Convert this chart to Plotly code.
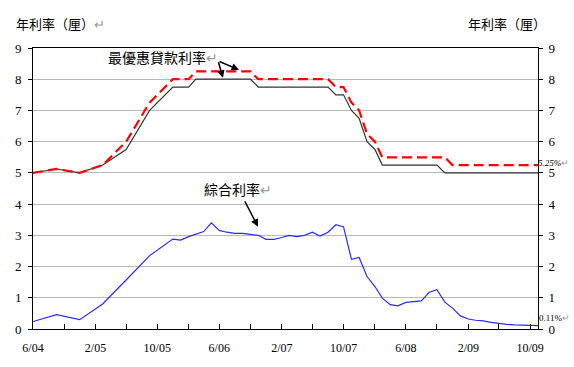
import pandas as pd
import plotly.graph_objects as go

# ---- data ----
quarter_dates = ["2004-06-01", "2004-09-01", "2004-12-01", "2005-03-01",
                 "2005-06-01", "2005-09-01", "2005-12-01"]
month_dates = [d.strftime("%Y-%m-%d") for d in pd.date_range("2006-01-01", "2009-11-01", freq="MS")]
dates = quarter_dates + month_dates

prime_low = ([5.0, 5.125, 5.0, 5.25, 5.75, 7.0, 7.75] +
             [7.75, 7.75] + [8.0] * 8 + [7.75] * 10 + [7.5, 7.5, 7.0, 6.75, 6.0, 5.75] +
             [5.25] * 8 + [5.0] * 13)
prime_high = ([5.0, 5.125, 5.0, 5.25, 6.0, 7.25, 8.0] +
              [8.0, 8.0] + [8.25] * 8 + [8.0] * 10 + [7.75, 7.75, 7.25, 7.0, 6.25, 6.0] +
              [5.5] * 9 + [5.25] * 12)
composite = ([0.24, 0.46, 0.30, 0.80, 1.57, 2.35, 2.88] +
             [2.85, 2.96, 3.03, 3.12, 3.40, 3.16, 3.10, 3.06, 3.06, 3.04, 3.00, 2.87,
              2.87, 2.93, 3.00, 2.96, 3.00, 3.10, 2.98, 3.10, 3.34, 3.27, 2.23, 2.29,
              1.68, 1.36, 0.99, 0.78, 0.74, 0.85, 0.88, 0.90, 1.18, 1.26, 0.86, 0.67,
              0.42, 0.32, 0.28, 0.26, 0.21, 0.17, 0.15, 0.13, 0.12, 0.12, 0.11])

tick_dates = pd.date_range("2004-06-01", "2009-10-01", freq="4MS")
tick_vals = [d.strftime("%Y-%m-%d") for d in tick_dates]
tick_text = [f"{d.month}/{d.strftime('%y')}" if i % 2 == 0 else "" for i, d in enumerate(tick_dates)]

y_ticks = list(range(0, 10))

SERIF = "Liberation Serif, Times New Roman, serif"
CJK = "Noto Sans CJK TC, Noto Sans CJK SC, sans-serif"

fig = go.Figure()
fig.add_trace(go.Scatter(x=dates, y=prime_low, mode="lines",
                         line=dict(color="#333333", width=1.2), hoverinfo="skip"))
fig.add_trace(go.Scatter(x=dates, y=prime_high, mode="lines",
                         line=dict(color="#ff0000", width=2.2, dash="10px,5px"), hoverinfo="skip"))
fig.add_trace(go.Scatter(x=dates, y=composite, mode="lines", yaxis="y2",
                         line=dict(color="#2a2aff", width=1.2), hoverinfo="skip"))

axis_font = dict(family=SERIF, size=13, color="black")

fig.update_layout(
    width=574, height=367,
    margin=dict(l=33, r=36, t=48, b=36),
    paper_bgcolor="white", plot_bgcolor="white",
    showlegend=False,
    xaxis=dict(type="date", range=["2004-06-01", "2009-11-01"],
               tickmode="array", tickvals=tick_vals, ticktext=tick_text,
               ticks="inside", ticklen=5, tickcolor="black", tickwidth=1,
               showline=True, linecolor="black", linewidth=1, mirror=True,
               showgrid=False, zeroline=False,
               tickfont=dict(family=SERIF, size=12, color="black"),
               ticklabelstandoff=8),
    yaxis=dict(range=[0, 9], tickmode="array", tickvals=y_ticks,
               ticks="outside", ticklen=4, tickcolor="black",
               showline=True, linecolor="black", linewidth=1, mirror=True,
               showgrid=True, gridcolor="#b8b8b8", gridwidth=1, zeroline=False,
               tickfont=axis_font, ticklabelstandoff=4),
    yaxis2=dict(range=[0, 9], tickmode="array", tickvals=y_ticks,
                overlaying="y", side="right",
                ticks="outside", ticklen=4, tickcolor="black",
                showline=True, linecolor="black", linewidth=1,
                showgrid=False, zeroline=False,
                tickfont=axis_font, ticklabelstandoff=3),
)

def px_x(p):
    return (p - 33) / 505.0

def px_y(p):
    return (331 - p) / 283.0

ret = "<span style='color:#9a9a9a'>↵</span>"
annots = [
    dict(text="年利率（厘）" + ret, x=px_x(14), y=px_y(23), xanchor="left", yanchor="middle",
         font=dict(family=CJK, size=13, color="black")),
    dict(text="年利率（厘）", x=px_x(548), y=px_y(23), xanchor="right", yanchor="middle",
         font=dict(family=CJK, size=13, color="black")),
    dict(text="最優惠貸款利率" + ret, x=px_x(106), y=px_y(57), xanchor="left", yanchor="middle",
         font=dict(family=CJK, size=14, color="black")),
    dict(text="綜合利率" + ret, x=px_x(202), y=px_y(190), xanchor="left", yanchor="middle",
         font=dict(family=CJK, size=14, color="black")),
    dict(text="<i>5.25%</i>" + ret, x=px_x(536), y=px_y(164), xanchor="left", yanchor="middle",
         font=dict(family=SERIF, size=9, color="black")),
    dict(text="0.11%" + ret, x=px_x(537), y=px_y(320), xanchor="left", yanchor="middle",
         font=dict(family=SERIF, size=9, color="black")),
]
for a in annots:
    a.update(xref="paper", yref="paper", showarrow=False)
    fig.add_annotation(**a)

arrows = [((223, 78), (218, 61)), ((239, 70), (218, 61)), ((258, 228), (244, 201))]
for (hx, hy), (tx, ty) in arrows:
    fig.add_annotation(x=px_x(hx), y=px_y(hy), xref="paper", yref="paper",
                       ax=tx - hx, ay=ty - hy, text="", showarrow=True,
                       arrowhead=2, arrowsize=1, arrowwidth=1.5, arrowcolor="black")

fig.write_html("out.html", config={"displayModeBar": False},
               post_script="document.body.style.margin='0';document.body.style.overflow='hidden';")
